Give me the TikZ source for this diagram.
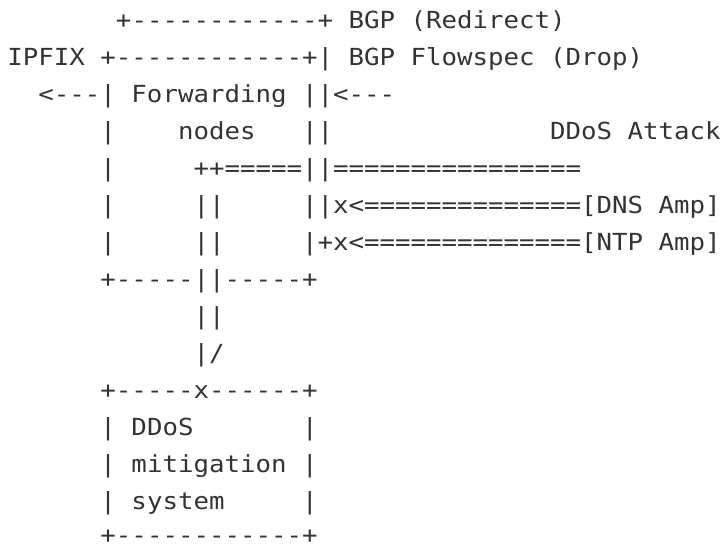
\documentclass[tikz,border=0pt]{standalone}
\usepackage{fontspec}
\setmonofont{DejaVu Sans Mono}[FakeStretch=1.096]
\usepackage{tikz}
\usetikzlibrary{positioning}
\definecolor{asciigray}{HTML}{333333}
\tikzset{ascii line/.style={anchor=base west,inner sep=0pt,text=asciigray,
font=\ttfamily\fontsize{23.5pt}{37pt}\selectfont}}

\begin{document}
\begin{tikzpicture}[x=1pt,y=1pt]
    \useasboundingbox (0,0) rectangle (727,-544);
    \node[ascii line] (1) at (7.25,-28) {~~~~~~~+------------+ BGP (Redirect)};
    \node[ascii line] (2) at (7.25,-65) {IPFIX +------------+| BGP Flowspec (Drop)};
    \node[ascii line] (3) at (7.25,-102) {~~<---| Forwarding ||<---};
    \node[ascii line] (4) at (7.25,-139) {~~~~~~|~~~~nodes~~~||~~~~~~~~~~~~~~DDoS Attack};
    \node[ascii line] (5) at (7.25,-176) {~~~~~~|~~~~~++=====||================};
    \node[ascii line] (6) at (7.25,-213) {~~~~~~|~~~~~||~~~~~||x<==============[DNS Amp]};
    \node[ascii line] (7) at (7.25,-250) {~~~~~~|~~~~~||~~~~~|+x<==============[NTP Amp]};
    \node[ascii line] (8) at (7.25,-287) {~~~~~~+-----||-----+};
    \node[ascii line] (9) at (7.25,-324) {~~~~~~~~~~~~||};
    \node[ascii line] (10) at (7.25,-361) {~~~~~~~~~~~~|/};
    \node[ascii line] (11) at (7.25,-398) {~~~~~~+-----x------+};
    \node[ascii line] (12) at (7.25,-435) {~~~~~~| DDoS~~~~~~~|};
    \node[ascii line] (13) at (7.25,-472) {~~~~~~| mitigation |};
    \node[ascii line] (14) at (7.25,-509) {~~~~~~| system~~~~~|};
    \node[ascii line] (15) at (7.25,-543.5) {~~~~~~+------------+};
\end{tikzpicture}
\end{document}
